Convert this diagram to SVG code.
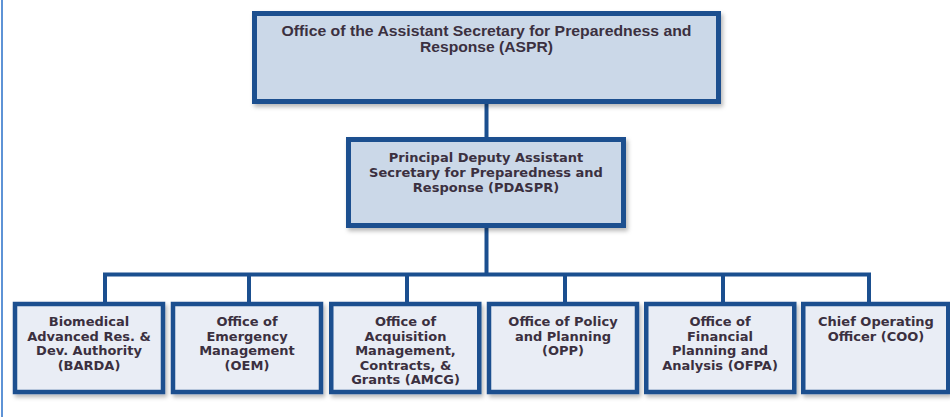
<svg xmlns="http://www.w3.org/2000/svg" width="950" height="417" viewBox="0 0 950 417">
<defs>
<filter id="sh" x="-10%" y="-10%" width="125%" height="130%">
<feDropShadow dx="2" dy="3" stdDeviation="2" flood-color="#000" flood-opacity="0.28"/>
</filter>
<style>
.top{fill:#cbd8e8;stroke:#1b4f8f;stroke-width:5;filter:url(#sh)}
.sub{fill:#e9edf5;stroke:#1b4f8f;stroke-width:4.5;filter:url(#sh)}
.conn{fill:none;stroke:#1b4f8f;stroke-width:4}
.t1{font-family:"Liberation Sans",Arial,sans-serif;font-weight:bold;font-size:15px;fill:#3b3040;text-anchor:middle}
.t{font-family:"DejaVu Sans",Verdana,sans-serif;font-weight:bold;font-size:13px;fill:#3b3040;text-anchor:middle}
</style>
</defs>
<rect width="950" height="417" fill="#fff"/>
<line x1="2" y1="0" x2="2" y2="417" stroke="#5e93d6" stroke-width="2"/>
<g id="connectors" class="conn">
<path d="M486.5,104 V137"/>
<path d="M486.5,228 V274.5"/>
<path d="M105,302 V274.5 H869 V302"/>
<path d="M249,274.5 V302"/>
<path d="M407,274.5 V302"/>
<path d="M565,274.5 V302"/>
<path d="M723,274.5 V302"/>
</g>
<g id="aspr">
<rect class="top" x="254.5" y="13.5" width="464" height="88"/>
<text class="t1" x="486.5" y="36" textLength="410" lengthAdjust="spacingAndGlyphs">Office of the Assistant Secretary for Preparedness and</text>
<text class="t1" x="486.5" y="51.5" textLength="133" lengthAdjust="spacingAndGlyphs">Response (ASPR)</text>
</g>
<g id="pdaspr">
<rect class="top" x="348.5" y="139.5" width="275" height="86"/>
<text class="t" x="486" y="162">Principal Deputy Assistant</text>
<text class="t" x="486" y="177">Secretary for Preparedness and</text>
<text class="t" x="486" y="192">Response (PDASPR)</text>
</g>
<g id="barda">
<rect class="sub" x="15" y="304" width="148" height="88"/>
<text class="t" x="89" y="326">Biomedical</text>
<text class="t" x="89" y="340.5">Advanced Res. &amp;</text>
<text class="t" x="89" y="355">Dev. Authority</text>
<text class="t" x="89" y="369.5">(BARDA)</text>
</g>
<g id="oem">
<rect class="sub" x="173" y="304" width="148" height="88"/>
<text class="t" x="247" y="326">Office of</text>
<text class="t" x="247" y="340.5">Emergency</text>
<text class="t" x="247" y="355">Management</text>
<text class="t" x="247" y="369.5">(OEM)</text>
</g>
<g id="amcg">
<rect class="sub" x="331.25" y="304" width="148" height="88"/>
<text class="t" x="405.5" y="326">Office of</text>
<text class="t" x="405.5" y="340.5">Acquisition</text>
<text class="t" x="405.5" y="355">Management,</text>
<text class="t" x="405.5" y="369.5">Contracts, &amp;</text>
<text class="t" x="405.5" y="384">Grants (AMCG)</text>
</g>
<g id="opp">
<rect class="sub" x="489" y="304" width="148" height="88"/>
<text class="t" x="563" y="326">Office of Policy</text>
<text class="t" x="563" y="340.5">and Planning</text>
<text class="t" x="563" y="355">(OPP)</text>
</g>
<g id="ofpa">
<rect class="sub" x="646.25" y="304" width="148" height="88"/>
<text class="t" x="720" y="326">Office of</text>
<text class="t" x="720" y="340.5">Financial</text>
<text class="t" x="720" y="355">Planning and</text>
<text class="t" x="720" y="369.5">Analysis (OFPA)</text>
</g>
<g id="coo">
<rect class="sub" x="803.25" y="304" width="145" height="88"/>
<text class="t" x="876" y="326">Chief Operating</text>
<text class="t" x="876" y="340.5">Officer (COO)</text>
</g>
</svg>
